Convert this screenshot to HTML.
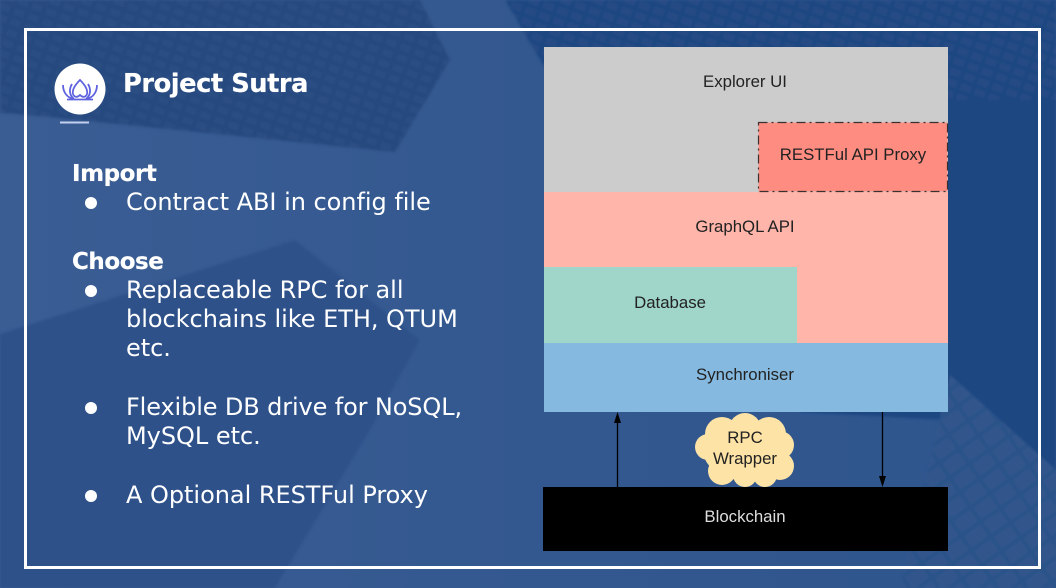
<!DOCTYPE html>
<html><head><meta charset="utf-8">
<style>
html,body{margin:0;padding:0}
#p{position:relative;width:1056px;height:588px;overflow:hidden;background:#345a93;font-family:"Liberation Sans",sans-serif}
#p>svg{position:absolute;left:0;top:0}
.t{position:absolute;white-space:nowrap;color:#fff;font-family:"DejaVu Sans",sans-serif;font-size:24px;line-height:29px;letter-spacing:-.03px}
.b{font-weight:bold;font-size:23px;letter-spacing:-.45px;text-shadow:0 0 .5px #fff}
.o{position:absolute;left:85px;width:12px;height:12px;border-radius:50%;background:#fff}
.d{position:absolute;font-family:"Liberation Sans",sans-serif;font-size:16.800px;line-height:20px;color:#222;text-align:center;white-space:nowrap}
</style></head><body><div id="p">
<svg width="1056" height="588" viewBox="0 0 1056 588">
<defs>
<pattern id="grid" width="15" height="11" patternUnits="userSpaceOnUse" patternTransform="rotate(20)"><rect x="2" y="2" width="11" height="7" fill="#fff" opacity=".028"/></pattern>
<pattern id="grid2" width="24" height="18" patternUnits="userSpaceOnUse" patternTransform="rotate(-35)"><rect x="2" y="2" width="20" height="14" fill="#fff" opacity=".022"/></pattern>
<linearGradient id="lt" x1="0" y1="0" x2="1" y2="0"><stop offset="0" stop-color="#3a5d94"/><stop offset=".5" stop-color="#33588f"/><stop offset="1" stop-color="#2f558e"/></linearGradient>
<filter id="bl" x="-5%" y="-5%" width="110%" height="110%"><feGaussianBlur stdDeviation="1.200"/></filter>
</defs>
<rect width="1056" height="588" fill="url(#lt)"/>
<g filter="url(#bl)">
<polygon points="0,0 420,0 450,60 395,152 28,115 0,113" fill="#25497f"/>
<polygon points="0,0 420,0 450,60 395,152 28,115 0,113" fill="url(#grid)"/>
<polygon points="505,0 1056,0 1056,470 950,375 948,420 800,412 540,60" fill="#1f4781"/>
<polygon points="505,0 1056,0 1056,100 950,100 540,60" fill="url(#grid)"/>
<polygon points="950,375 1056,470 1056,588 900,588" fill="#2c5289"/>
<polygon points="950,375 1056,470 1056,588 900,588" fill="url(#grid2)"/>
<polygon points="0,334 295,240 420,340 370,430 275,588 0,588" fill="#2d518a"/>
</g>
<rect x="25.500" y="29.500" width="1014" height="538" fill="none" stroke="#fff" stroke-width="3"/>
<circle cx="80" cy="89" r="25.500" fill="#fff"/>
<g fill="none" stroke="#5f63e0" stroke-width="1.800">
<path d="M80 80c-5 5-8 10-7 14 1 3 4 4 7 1 3 3 6 2 7-1 1-4-2-9-7-14z"/>
<path d="M72 84c-3 5-3 11 2 15M88 84c3 5 3 11-2 15"/>
<path d="M63 85c0 7 4 13 11 14M97 85c0 7-4 13-11 14"/>
<path d="M67 99.500h26"/>
</g>
<rect x="60" y="121.500" width="29" height="2" fill="#c3cfee"/>
<rect x="544" y="47" width="404" height="145" fill="#cccccc"/>
<rect x="544" y="192" width="404" height="151" fill="#ffb5aa"/>
<rect x="544" y="267" width="253" height="76" fill="#9fd6c9"/>
<rect x="544" y="343" width="404" height="69" fill="#85b9e0"/>
<rect x="758.500" y="122.500" width="189" height="69" fill="#ff8c80" stroke="#3a3030" stroke-width="1.200" stroke-dasharray="9 4 2 4"/>
<rect x="543" y="487" width="405" height="64" fill="#000"/>
<path d="M617.500 487V420" stroke="#000" stroke-width="1.300"/>
<path d="M617.500 412l-3.500 11h7z" fill="#000"/>
<path d="M882.500 412V478" stroke="#000" stroke-width="1.300"/>
<path d="M882.500 487l-3.500-11h7z" fill="#000"/>
<g fill="#fde3a5">
<ellipse cx="745" cy="450" rx="42" ry="30"/>
<circle cx="745" cy="429" r="16"/>
<circle cx="722" cy="434" r="17"/>
<circle cx="769" cy="434" r="17"/>
<circle cx="708" cy="447" r="13"/>
<circle cx="780" cy="445" r="14"/>
<circle cx="780" cy="466" r="14"/>
<circle cx="765" cy="475" r="12"/>
<circle cx="745" cy="475" r="12"/>
<circle cx="722" cy="471" r="14"/>
</g>
</svg>
<div class="t b" style="left:123px;top:70px;font-size:25.700px">Project Sutra</div>
<div class="t b" style="left:72px;top:160px">Import</div>
<div class="o" style="top:197px"></div>
<div class="t" style="left:126px;top:188px">Contract ABI in config file</div>
<div class="t b" style="left:72px;top:248px">Choose</div>
<div class="o" style="top:285px"></div>
<div class="t" style="left:126px;top:276px">Replaceable RPC for all</div>
<div class="t" style="left:126px;top:305px">blockchains like ETH, QTUM</div>
<div class="t" style="left:126px;top:334px">etc.</div>
<div class="o" style="top:402px"></div>
<div class="t" style="left:126px;top:393px;letter-spacing:-.12px">Flexible DB drive for NoSQL,</div>
<div class="t" style="left:126px;top:422px">MySQL etc.</div>
<div class="o" style="top:490px"></div>
<div class="t" style="left:126px;top:481px">A Optional RESTFul Proxy</div>
<div class="d" style="left:645px;top:72px;width:200px">Explorer UI</div>
<div class="d" style="left:758px;top:145px;width:190px">RESTFul API Proxy</div>
<div class="d" style="left:645px;top:217px;width:200px">GraphQL API</div>
<div class="d" style="left:570px;top:293px;width:200px">Database</div>
<div class="d" style="left:645px;top:365px;width:200px">Synchroniser</div>
<div class="d" style="left:695px;top:427px;width:100px;line-height:21px">RPC<br>Wrapper</div>
<div class="d" style="left:645px;top:507px;width:200px;color:#ddd">Blockchain</div>
</div></body></html>
